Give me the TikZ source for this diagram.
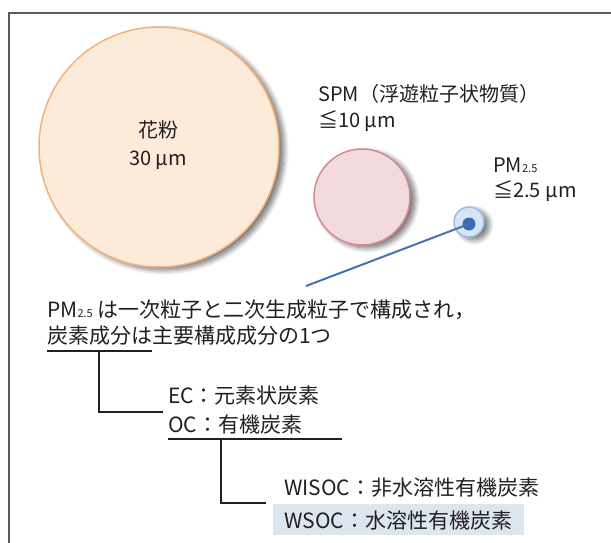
\documentclass[tikz,border=0pt]{standalone}
\usepackage{fontspec}
\setmainfont{Noto Sans CJK JP}
\usetikzlibrary{shadows.blur}
\definecolor{frame}{HTML}{5A5A5A}
\definecolor{pollenfill}{HTML}{FDEBDA}
\definecolor{pollenline}{HTML}{F2B27C}
\definecolor{spmfill}{HTML}{F3DADC}
\definecolor{spmline}{HTML}{D48A91}
\definecolor{pmfill}{HTML}{D6E4F3}
\definecolor{pmline}{HTML}{9BBBE0}
\definecolor{pmdot}{HTML}{3E6DAF}
\definecolor{leader}{HTML}{4472B5}
\definecolor{hilite}{HTML}{DCE6F1}
\definecolor{ink}{HTML}{231F20}
\newcommand{\sml}[1]{{\fontsize{11}{11}\selectfont #1}}
\tikzset{
  lbl/.style={anchor=base west, inner sep=0pt, text=ink, font=\fontsize{20}{24}\selectfont},
  blbl/.style={anchor=base west, inner sep=0pt, text=ink, font=\fontsize{21}{25}\selectfont},
  clbl/.style={anchor=base, inner sep=0pt, text=ink, font=\fontsize{20}{24}\selectfont},
  tree/.style={draw=ink, line width=1.5pt},
  shad/.style={blur shadow={shadow xshift=5pt, shadow yshift=-3pt, shadow blur steps=10, shadow opacity=55, shadow blur radius=5pt}},
}
\begin{document}
\begin{tikzpicture}[x=1pt,y=-1pt]
\useasboundingbox (0,0) rectangle (611,543);
% frame
\coordinate (fr) at (613,13);
\coordinate (fc) at (9,13);
\coordinate (fb) at (9,545);
\draw[frame, line width=1.2pt] (fr) -- (fc) -- (fb);
% circles
\node[circle, minimum size=240pt, inner sep=0pt, fill=pollenfill, draw=pollenline, line width=1.5pt, shad] (pollen) at (159,147) {};
\node[circle, minimum size=96pt, inner sep=0pt, fill=spmfill, draw=spmline, line width=1.5pt, shad] (spm) at (362,197) {};
\node[circle, minimum size=30pt, inner sep=0pt, fill=pmfill, draw=pmline, line width=1.5pt, shad] (pm) at (469,222) {};
\node[circle, minimum size=13pt, inner sep=0pt, fill=pmdot] (dot) at (469,224) {};
% leader line
\coordinate (lead) at (306,286);
\draw[leader, line width=2pt] (lead) -- (dot.center);
% circle labels
\node[clbl] (t1) at (158,138) {花粉};
\node[clbl] (t2) at (158,165) {30 μm};
\node[lbl] (t3) at (318,102) {SPM（浮遊粒子状物質）};
\node[lbl] (t4) at (318,128) {≦10 μm};
\node[lbl] (t5) at (493,172) {PM\sml{2.5}};
\node[lbl] (t6) at (493,197) {≦2.5 μm};
% main text
\node[blbl] (m1) at (47,317) {PM\sml{2.5} は一次粒子と二次生成粒子で構成され，};
\node[blbl] (m2) at (47,343) {炭素成分は主要構成成分の1つ};
% tree level 1
\coordinate (u1a) at (47,351);
\coordinate (u1b) at (152,351);
\coordinate (v1a) at (99,351);
\coordinate (v1b) at (99,412);
\coordinate (v1c) at (163,412);
\draw[tree] (u1a) -- (u1b);
\draw[tree] (v1a) -- (v1b) -- (v1c);
\node[blbl] (ec) at (168,403) {EC：元素状炭素};
\node[blbl] (oc) at (168,432) {OC：有機炭素};
% tree level 2
\coordinate (u2a) at (168,439);
\coordinate (u2b) at (342,439);
\coordinate (v2a) at (221,439);
\coordinate (v2b) at (221,503);
\coordinate (v2c) at (266,503);
\draw[tree] (u2a) -- (u2b);
\draw[tree] (v2a) -- (v2b) -- (v2c);
\fill[hilite] (273,504) rectangle (524,535);
\node[blbl] (wi) at (284,495) {WISOC：非水溶性有機炭素};
\node[blbl] (ws) at (284,528) {WSOC：水溶性有機炭素};
\end{tikzpicture}
\end{document}
